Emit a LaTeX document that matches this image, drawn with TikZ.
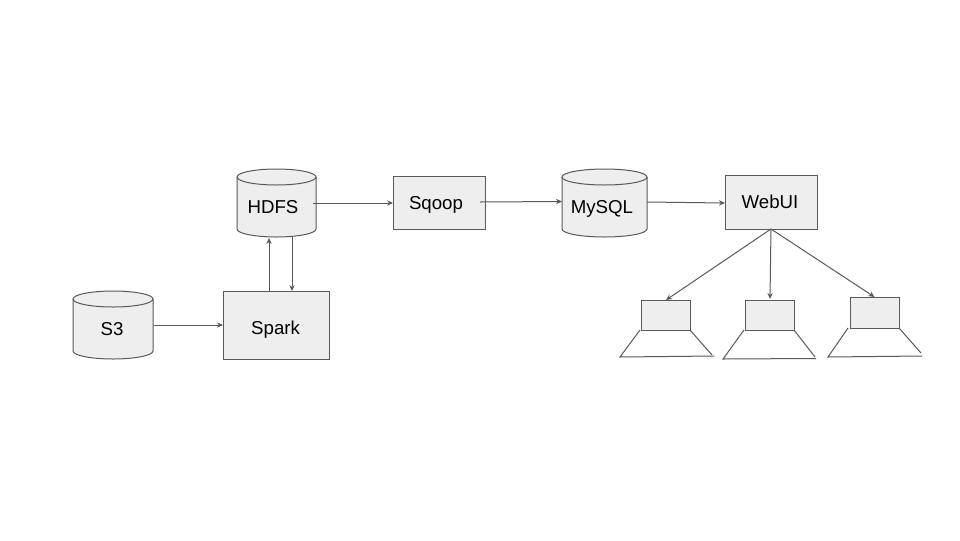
\documentclass[tikz,border=0pt]{standalone}
\usepackage{fontspec}
\setmainfont{Liberation Sans}
\usetikzlibrary{arrows.meta,calc}
\definecolor{boxfill}{HTML}{EEEEEE}
\definecolor{ink}{HTML}{595959}
\pgfdeclarelayer{back}
\pgfsetlayers{back,main}
\newcommand\shifttext[3]{\raisebox{#2}{\makebox[0pt]{\hspace{#1}\hspace{#1}#3}}}
\newcommand\drumbody[2]{%
  \begin{pgfonlayer}{back}
    \draw[drumline] ($(#1.north west)+(0,8)$)
      arc[start angle=180,end angle=0,x radius=#2,y radius=6pt]
      -- ($(#1.south east)+(0,-8)$)
      arc[start angle=0,end angle=-180,x radius=#2,y radius=6pt] -- cycle;
    \draw[drumedge] ($(#1.north west)+(0,8)$)
      arc[start angle=180,end angle=360,x radius=#2,y radius=6pt];
  \end{pgfonlayer}}
\tikzset{
  textbase/.style={inner sep=0pt,outer sep=0pt,font=\fontsize{14}{16}\selectfont,text=black,text height=10pt,text depth=0pt},
  boxnode/.style={textbase,rectangle,draw=ink,line width=0.75pt,fill=boxfill,anchor=north west},
  drum/.style={textbase,rectangle,anchor=north west},
  drumline/.style={draw=ink,line width=0.75pt,fill=boxfill},
  drumedge/.style={draw=ink,line width=0.75pt},
  wire/.style={draw=ink,line width=0.75pt,-{Stealth[length=4.5pt,width=4pt]}},
  stand/.style={draw=ink,line width=0.75pt}
}
\begin{document}
\begin{tikzpicture}[x=0.75pt,y=-0.75pt]
\useasboundingbox (0,0) rectangle (960,540);
% boxes
\node[boxnode,minimum width=79.5pt,minimum height=51pt] (spark) at (223,291) {\shifttext{-0.3pt}{-2.25pt}{Spark}};
\node[boxnode,minimum width=69pt,minimum height=39.75pt] (sqoop) at (393,176) {\shifttext{-2.25pt}{-0.4pt}{Sqoop}};
\node[boxnode,minimum width=69pt,minimum height=40.5pt] (webui) at (725,175) {\shifttext{-0.75pt}{0.5pt}{WebUI}};
% drums
\node[drum,minimum width=59.25pt,minimum height=51pt] (hdfs) at (237,169) {\shifttext{-2.6pt}{-3pt}{HDFS}};
\drumbody{hdfs}{29.625pt}
\node[drum,minimum width=60pt,minimum height=51pt] (s3) at (73,291) {\shifttext{-0.75pt}{-3pt}{S3}};
\drumbody{s3}{30pt}
\node[drum,minimum width=63.75pt,minimum height=51pt] (mysql) at (562,169) {\shifttext{-1.9pt}{-3pt}{MySQL}};
\drumbody{mysql}{31.875pt}
% screens
\node[boxnode,minimum width=36.75pt,minimum height=22.5pt] (screena) at (641,300) {};
\node[boxnode,minimum width=36.75pt,minimum height=22.5pt] (screenb) at (745,300) {};
\node[boxnode,minimum width=36.75pt,minimum height=23.25pt] (screenc) at (850,297) {};
% stands
\draw[stand] ($(screena.south west)+(-1,0)$) -- (620,357) -- (714,356);
\draw[stand] (screena.south east) -- (712,355);
\draw[stand] ($(screenb.south west)+(-1,0)$) -- (723,359) -- (816,358.5);
\draw[stand] (screenb.south east) -- (815,357);
\draw[stand] ($(screenc.south west)+(-2,0)$) -- (828,357) -- (922,356);
\draw[stand] (screenc.south east) -- (921,353);
% connectors
\draw[wire] ($(s3.east)+(1,0)$) -- (spark.west |- s3.east);
\draw[wire] ($(spark.north)+(-7,0)$) -- ($(hdfs.south)+(-7.5,1)$);
\draw[wire] ($(hdfs.south)+(15.5,0)$) -- ($(spark.north)+(16,0)$);
\draw[wire] ($(hdfs.east)+(-3,0)$) -- (sqoop.west |- hdfs.east);
\draw[wire] ($(sqoop.east)+(-5,-0.5)$) -- ($(mysql.west)+(0,-1.5)$);
\draw[wire] ($(mysql.east)+(0,-1)$) -- ($(webui.west)+(0,1)$);
\draw[wire] (webui.south) -- ($(screena.north)+(0.5,0)$);
\draw[wire] (webui.south) -- ($(screenb.north)+(0.5,-1)$);
\draw[wire] (webui.south) -- (screenc.north);
\end{tikzpicture}
\end{document}
